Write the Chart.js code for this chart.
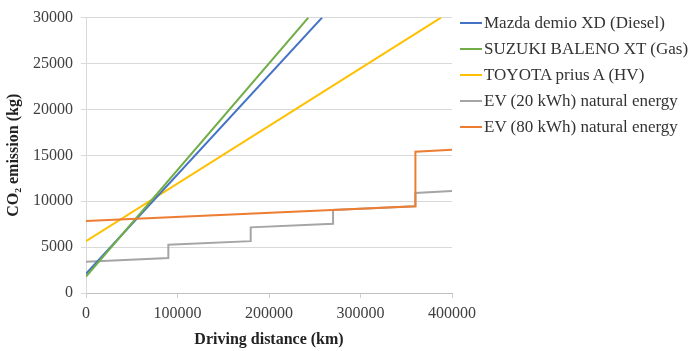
<!DOCTYPE html>
<html lang="en">
<head>
  <meta charset="UTF-8">
  <title>CO2 emission vs driving distance</title>
  <script src="https://cdn.jsdelivr.net/npm/chart.js"></script>
  <style>
    body { margin: 0; background: #fff; }
    #wrap { position: relative; width: 689px; height: 351px; }
    #legend { position: absolute; left: 460px; top: 10px; font-family: "Liberation Serif", "Times New Roman", serif; font-size: 17px; color: #333; }
    .item { height: 26px; line-height: 26px; white-space: nowrap; display: flex; align-items: center; }
    .swatch { width: 22px; height: 2px; margin-right: 2px; }
  </style>
</head>
<body>
  <div id="wrap">
    <canvas id="chart"></canvas>
    <div id="legend"></div>
  </div>

  <script>
    // series names and colours (Excel style)
    const names  = ['Mazda demio XD (Diesel)', 'SUZUKI BALENO XT (Gas)', 'TOYOTA prius A (HV)',
                    'EV (20 kWh) natural energy', 'EV (80 kWh) natural energy'];
    const colors = ['#4472C4', '#70AD47', '#FFC000', '#A5A5A5', '#ED7D31'];

    // driving distance (km) and CO2 (kg)
    const mazdaKm   = [0, 258000];
    const mazdaCO2  = [2100, 30000];
    const suzukiKm  = [0, 243000];
    const suzukiCO2 = [1800, 30000];
    const toyotaKm  = [0, 388000];
    const toyotaCO2 = [5650, 30000];
    const ev20Km    = [0, 90000, 90000, 180000, 180000, 270000, 270000, 360000, 360000, 400000];
    const ev20CO2   = [3400, 3800, 5250, 5650, 7150, 7550, 9050, 9450, 10900, 11100];
    const ev80Km    = [0, 360000, 360000, 400000];
    const ev80CO2   = [7850, 9450, 15400, 15600];

    const xTicks = [0, 100000, 200000, 300000, 400000];
    const yTicks = [0, 5000, 10000, 15000, 20000, 25000, 30000];

    const series = [
      [mazdaKm, mazdaCO2], [suzukiKm, suzukiCO2], [toyotaKm, toyotaCO2],
      [ev20Km, ev20CO2], [ev80Km, ev80CO2]
    ];
    // lower order = drawn on top
    const drawOrder = [3, 2, 4, 5, 1];

    const datasets = series.map(([xs, ys], i) => ({
      label: names[i],
      data: xs.map((x, k) => ({ x, y: ys[k] })),
      borderColor: colors[i],
      backgroundColor: colors[i],
      borderWidth: 2,
      pointRadius: 0,
      tension: 0,
      fill: false,
      order: drawOrder[i]
    }));

    const serif = 'Liberation Serif, Times New Roman, serif';

    new Chart(document.getElementById('chart'), {
      type: 'line',
      data: { datasets },
      options: {
        responsive: true,
        maintainAspectRatio: false,
        animation: false,
        layout: { padding: { top: 16, right: 237, bottom: 0, left: 0 } },
        plugins: { legend: { display: false }, tooltip: { enabled: false } },
        scales: {
          x: {
            type: 'linear',
            min: xTicks[0], max: xTicks[xTicks.length - 1],
            afterBuildTicks: s => { s.ticks = xTicks.map(v => ({ value: v })); },
            afterFit: s => { s.height = 58; },
            ticks: { color: '#404040', font: { family: serif, size: 16 }, padding: 6,
                     callback: v => String(v) },
            grid: { drawOnChartArea: false, drawTicks: true, tickLength: 5, color: '#d0d0d0' },
            border: { display: true, color: '#bfbfbf' },
            title: { display: true, text: 'Driving distance (km)', color: '#222',
                     font: { family: serif, size: 16, weight: 'bold' }, padding: { top: 0, bottom: 2 } }
          },
          y: {
            min: yTicks[0], max: yTicks[yTicks.length - 1],
            afterBuildTicks: s => { s.ticks = yTicks.map(v => ({ value: v })); },
            afterFit: s => { s.width = 86; },
            ticks: { color: '#404040', font: { family: serif, size: 16 }, padding: 8,
                     callback: v => String(v) },
            grid: { color: '#d9d9d9', drawTicks: true, tickLength: 5 },
            border: { display: true, color: '#d9d9d9' },
            title: { display: true, text: 'CO₂ emission (kg)', color: '#222',
                     font: { family: serif, size: 16, weight: 'bold' }, padding: { top: 4, bottom: 0 } }
          }
        }
      }
    });

    // legend built from the same names / colours
    const legend = document.getElementById('legend');
    names.forEach((n, i) => {
      const row = document.createElement('div');
      row.className = 'item';
      const sw = document.createElement('span');
      sw.className = 'swatch';
      sw.style.background = colors[i];
      const tx = document.createElement('span');
      tx.textContent = n;
      row.appendChild(sw);
      row.appendChild(tx);
      legend.appendChild(row);
    });
  </script>
</body>
</html>
